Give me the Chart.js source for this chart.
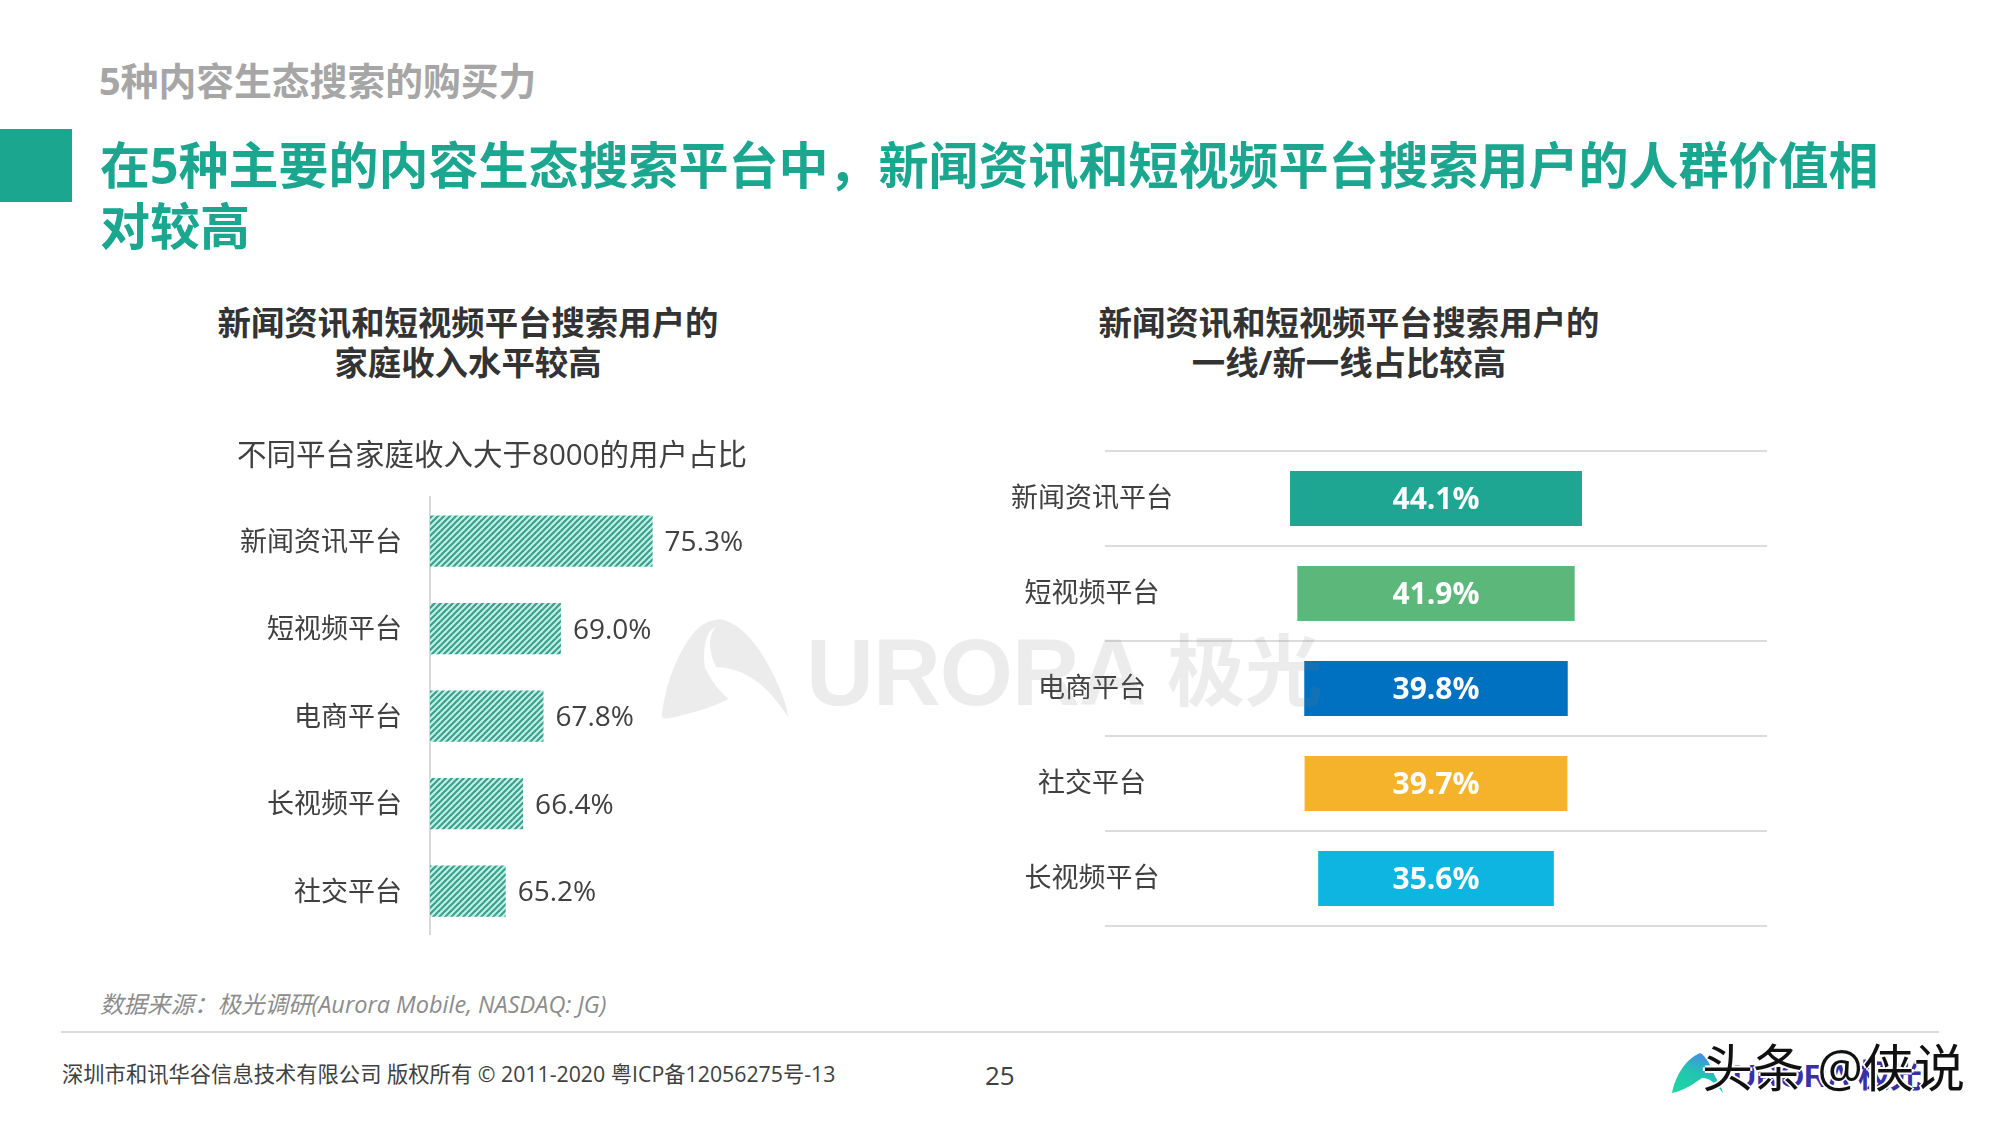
<!DOCTYPE html>
<html>
<head>
<meta charset="utf-8">
<title>5种内容生态搜索的购买力</title>
<script src="https://cdn.jsdelivr.net/npm/chart.js@4/dist/chart.umd.min.js"></script>
<style>
  html,body{margin:0;padding:0;background:#fff}
  body{width:2000px;height:1125px;position:relative;overflow:hidden;font-family:"Open Sans","Noto Sans CJK SC",sans-serif}
  .abs{position:absolute;white-space:nowrap}
  canvas{position:absolute}
  #kicker{left:99px;top:55px;font-size:37.8px;line-height:52px;font-weight:700;color:#a6a6a6}
  #bar{left:0;top:129px;width:72px;height:73px;background:#1aa68f}
  #headline{left:100px;top:135px;font-size:50px;line-height:61px;font-weight:700;color:#1aa68f}
  .sub{font-size:33.4px;line-height:40px;font-weight:700;color:#333;text-align:center;transform:translateX(-50%)}
  #source{left:100px;top:988px;font-size:23.5px;line-height:32px;font-style:italic;color:#8c8c8c}
  #rule{left:61px;top:1031px;width:1878px;height:2px;background:#dcdcdc}
  #copy{left:62px;top:1059px;font-size:21.3px;line-height:30px;color:#404040}
  #page{left:985px;top:1058px;font-size:26px;line-height:34px;color:#404040}
  .mark{top:620px;font-family:"Liberation Sans","Noto Sans CJK SC",sans-serif;font-weight:700;line-height:106px;color:rgba(128,128,128,.15);pointer-events:none;z-index:5}
  #brand{left:1733px;top:1058px;font:700 32px/36px "Liberation Sans","Noto Sans CJK SC",sans-serif;color:#3a2fa6}
  #stamp{left:1702px;top:1034px;font-size:51px;line-height:66px;color:#111;text-shadow:2px 0 #fff,-2px 0 #fff,0 2px #fff,0 -2px #fff;z-index:6}
</style>
</head>
<body>
<div class="abs" id="kicker">5种内容生态搜索的购买力</div>
<div class="abs" id="bar"></div>
<div class="abs" id="headline">在5种主要的内容生态搜索平台中，新闻资讯和短视频平台搜索用户的人群价值相<br>对较高</div>
<div class="abs sub" style="left:468px;top:302px">新闻资讯和短视频平台搜索用户的<br>家庭收入水平较高</div>
<div class="abs sub" style="left:1353px;top:302px;margin-left:-4px">新闻资讯和短视频平台搜索用户的<br>一线/新一线占比较高</div>

<canvas id="chartIncome" width="584" height="549" style="left:200px;top:430px;width:584px;height:549px"></canvas>
<canvas id="chartCity" width="850" height="520" style="left:958px;top:429px;width:850px;height:520px"></canvas>

<svg class="abs" style="left:0;top:0;z-index:5;pointer-events:none" width="2000" height="1125">
  <path fill="rgba(128,128,128,.15)" d="M662 716C664 690 676 655 692 635C702 622 714 618 724 620C744 626 760 648 772 672C782 692 787 706 788 717C772 692 750 668 716 667C708 650 708 635 716 627C706 630 702 650 705 668C712 682 720 692 729 699C710 708 690 714 670 718C665 719 662 719 662 716Z"/>
</svg>
<div class="abs mark" style="left:806px;font-size:94px;letter-spacing:-1px">URORA</div>
<div class="abs mark" style="left:1167px;font-size:78px">极光</div>

<div class="abs" id="source">数据来源：极光调研(Aurora Mobile, NASDAQ: JG)</div>
<div class="abs" id="rule"></div>
<div class="abs" id="copy">深圳市和讯华谷信息技术有限公司 版权所有 © 2011-2020 粤ICP备12056275号-13</div>
<div class="abs" id="page">25</div>

<svg class="abs" style="left:1672px;top:1050px" width="60" height="50">
  <defs><linearGradient id="lg" x1="0.7" y1="0" x2="0.2" y2="1"><stop offset="0" stop-color="#4a86f0"/><stop offset=".5" stop-color="#22c4b0"/><stop offset="1" stop-color="#1fd6a4"/></linearGradient></defs>
  <path fill="url(#lg)" d="M0 43C3 28 12 10 28 3C34 6 38 14 42 24C46 32 50 38 51 43C44 34 38 28 30 28C24 32 14 40 0 43Z"/>
</svg>
<div class="abs" id="brand">URORA 极光</div>
<div class="abs" id="stamp">头条 @侠说</div>

<script>
const FONT = '"Open Sans","Noto Sans CJK SC",sans-serif'

// Left: share of users with household income above 8000
const INCOME = {
  labels: ["新闻资讯平台","短视频平台","电商平台","长视频平台","社交平台"],
  values: [75.3, 69.0, 67.8, 66.4, 65.2]
}
// Right: share of users in tier 1 / new tier 1 cities
const CITY = {
  labels: ["新闻资讯平台","短视频平台","电商平台","社交平台","长视频平台"],
  values: [44.1, 41.9, 39.8, 39.7, 35.6],
  colors: ["#1fa692","#5cb87a","#0070c0","#f5b32c","#0eb5e0"]
}

// Diagonal hatch used by the left bars
function hatch(){
  const t = document.createElement('canvas'); t.width = 6; t.height = 6
  const c = t.getContext('2d')
  c.fillStyle = '#c4f1e6'; c.fillRect(0,0,6,6)
  c.strokeStyle = '#3aa18f'; c.lineWidth = 2.2
  for (const d of [-6,0,6]) { c.beginPath(); c.moveTo(d-1,7); c.lineTo(d+7,-1); c.stroke() }
  return document.createElement('canvas').getContext('2d').createPattern(t,'repeat')
}

// Value labels, drawn from each bar's own element
const valueLabels = {
  id:'valueLabels',
  afterDatasetsDraw(chart, args, opts){
    const ctx = chart.ctx
    const meta = chart.getDatasetMeta(0)
    ctx.save()
    ctx.font = opts.font
    ctx.fillStyle = opts.color
    ctx.textBaseline = 'middle'
    ctx.textAlign = opts.inside ? 'center' : 'left'
    meta.data.forEach((el,i)=>{
      const txt = opts.values[i].toFixed(1)+'%'
      const x = opts.inside ? (el.x+el.base)/2 : el.x+12
      ctx.fillText(txt, x, el.y+2)
    })
    ctx.restore()
  }
}

new Chart(document.getElementById('chartIncome'), {
  type:'bar',
  plugins:[valueLabels],
  data:{ labels:INCOME.labels, datasets:[{ data:INCOME.values, backgroundColor:hatch(), barPercentage:.585, categoryPercentage:1 }]},
  options:{
    indexAxis:'y', responsive:false, animation:false,
    layout:{ padding:0 },
    plugins:{
      legend:{display:false}, tooltip:{enabled:false},
      title:{ display:true, text:'不同平台家庭收入大于8000的用户占比', color:'#404040',
        font:{family:FONT,size:29.5,weight:'400',lineHeight:1.2}, padding:{top:9,bottom:23} },
      valueLabels:{ values:INCOME.values, font:'28px '+FONT, color:'#404040' }
    },
    scales:{
      x:{ display:false, min:60, max:84.33 },
      y:{ afterFit(s){ s.width = 230 }, grid:{display:false, drawTicks:false}, border:{color:'#d9d9d9',width:2},
          ticks:{ color:'#404040', padding:28, labelOffset:2, font:{family:FONT,size:27} } }
    }
  }
})

new Chart(document.getElementById('chartCity'), {
  type:'bar',
  plugins:[valueLabels],
  // bars are centred on zero, so each one spans -v/2 .. v/2
  data:{ labels:CITY.labels, datasets:[{ data:CITY.values.map(v=>[-v/2,v/2]), backgroundColor:CITY.colors, barPercentage:.58, categoryPercentage:1 }]},
  options:{
    indexAxis:'y', responsive:false, animation:false,
    layout:{ padding:{top:22,bottom:23,right:41} },
    plugins:{
      legend:{display:false}, tooltip:{enabled:false},
      valueLabels:{ values:CITY.values, font:'700 30px '+FONT, color:'#fff', inside:true }
    },
    scales:{
      x:{ display:false, min:-50, max:50 },
      // mirror keeps the centred labels from being clipped to the axis box
      y:{ afterFit(s){ s.width = 147 },
          grid:{ offset:true, color:'#dcdcdc', lineWidth:2, drawTicks:false }, border:{display:false},
          ticks:{ mirror:true, crossAlign:'center', color:'#404040', padding:-94, labelOffset:1, font:{family:FONT,size:27} } }
    }
  }
})
</script>
</body>
</html>
